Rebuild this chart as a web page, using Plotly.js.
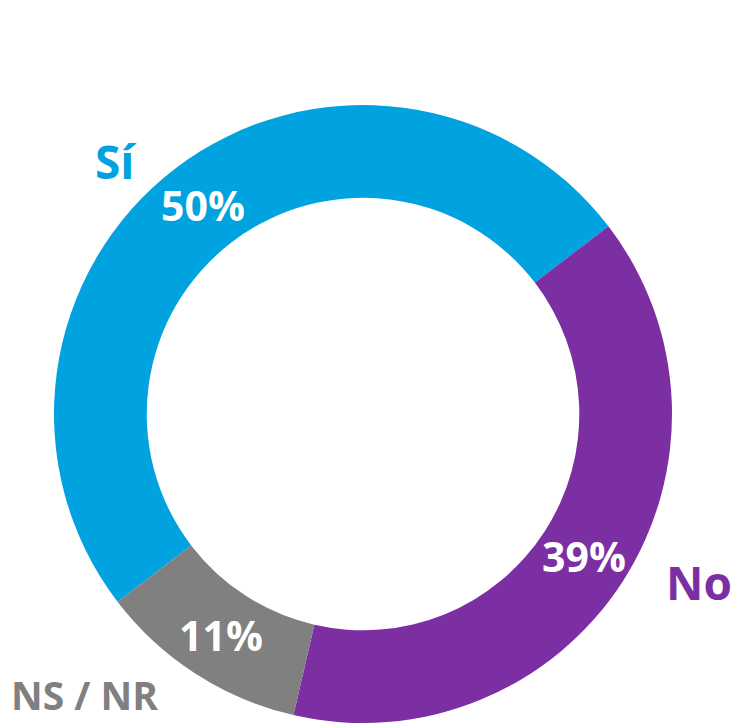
<!DOCTYPE html>
<html>
<head>
<meta charset="utf-8">
<script src="https://cdn.plot.ly/plotly-3.0.1.min.js"></script>
<style>html,body{margin:0;padding:0;background:#fff;}#chart{width:733px;height:726px;}</style>
</head>
<body>
<div id="chart"></div>
<script>
const labels = ["Sí", "No", "NS / NR"];
const values = [50, 39, 11];
const colors = ["#00A2DF", "#7B2FA3", "#808080"];
const labelPos = [[115, 161], [699, 582], [84, 694]];

const W = 733, H = 726;
const cx = 363, cy = 414, R = 309;
const rotation = 232.6, hole = 0.7;

const trace = {
  type: "pie",
  labels: labels,
  values: values,
  sort: false,
  direction: "clockwise",
  rotation: rotation,
  hole: hole,
  marker: {colors: colors, line: {width: 0}},
  textinfo: "none",
  hoverinfo: "none",
  showlegend: false,
  domain: {x: [(cx - R) / W, (cx + R) / W], y: [1 - (cy + R) / H, 1 - (cy - R) / H]}
};

const annotations = labels.map((l, i) => ({
  text: l,
  xref: "paper", yref: "paper",
  x: labelPos[i][0] / W, y: 1 - labelPos[i][1] / H,
  xanchor: "center", yanchor: "middle",
  showarrow: false,
  font: {family: "Open Sans, sans-serif", size: i === 2 ? 39 : 46, color: colors[i], weight: 700}
}));

// percentage labels at the middle of each slice's ring, derived from the values
const total = values.reduce((a, b) => a + b, 0);
let cum = 0;
const rMid = R * (1 + hole) / 2;
values.forEach((v, i) => {
  const mid = (rotation + (cum + v / 2) / total * 360) * Math.PI / 180;
  cum += v;
  const px = cx + rMid * Math.sin(mid);
  const py = cy - rMid * Math.cos(mid);
  annotations.push({
    text: Math.round(v / total * 100) + "%",
    xref: "paper", yref: "paper",
    x: px / W, y: 1 - py / H,
    xanchor: "center", yanchor: "middle",
    showarrow: false,
    font: {family: "Open Sans, sans-serif", size: 41, color: "#ffffff", weight: 700}
  });
});

Plotly.newPlot("chart", [trace], {
  width: W, height: H,
  margin: {l: 0, r: 0, t: 0, b: 0},
  paper_bgcolor: "#ffffff",
  annotations: annotations
}, {displayModeBar: false, staticPlot: true});
</script>
</body>
</html>
